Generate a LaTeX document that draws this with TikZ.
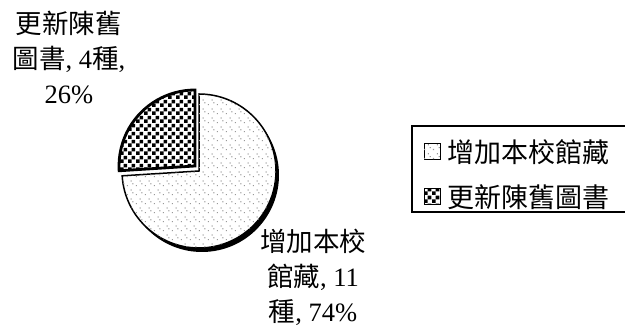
\documentclass[tikz,border=0pt]{standalone}
\usepackage{fontspec}
\setmainfont{Liberation Serif}
\newfontfamily\cjk{Noto Sans CJK TC}
\usetikzlibrary{patterns,patterns.meta}
\tikzdeclarepattern{name=darkchk, type=uncolored,
  bounding box={(0pt,0pt) and (8pt,8pt)}, tile size={(8pt,8pt)},
  code={\fill (0pt,0pt) rectangle (4pt,4pt); \fill (4pt,4pt) rectangle (8pt,8pt);}}
\tikzdeclarepattern{name=speck, type=uncolored,
  bounding box={(0pt,0pt) and (9pt,9pt)}, tile size={(9pt,9pt)},
  code={\fill (1pt,1pt) rectangle (2.2pt,2.2pt); \fill (5pt,6pt) rectangle (6.2pt,7.2pt); \fill (7pt,3pt) rectangle (8.2pt,4.2pt);}}
\tikzset{
  lightslice/.style={draw=black, line width=1.5pt, fill=white, postaction={pattern=speck, pattern color=gray!80}},
  darkslice/.style={draw=black, line width=2.8pt, fill=white, postaction={pattern=darkchk, pattern color=black}},
  lbl/.style={align=center, inner sep=0pt, font=\fontsize{26.5}{35}\selectfont},
  legtxt/.style={anchor=west, inner sep=0pt, font=\fontsize{27}{30}\selectfont\cjk},
}
\begin{document}
\begin{tikzpicture}[x=1pt,y=1pt]
\useasboundingbox (0,0) rectangle (625,331);
\coordinate (c) at (199,160);
\coordinate (cs) at (202,156);
\coordinate (d) at (195,165);
% shadow
\fill[black] (cs) -- ++(-176.4:77) arc[start angle=-176.4,end angle=90,radius=77] -- cycle;
% light slice 74%
\path[lightslice] (c) -- ++(-176.4:77) arc[start angle=-176.4,end angle=90,radius=77] -- cycle;
% dark slice 26%
\path[darkslice] (d) -- ++(90:76) arc[start angle=90,end angle=183.6,radius=76] -- cycle;
% labels
\node[lbl] (l1) at (69,274) {{\cjk 更新陳舊}\\{\cjk 圖書}, 4{\cjk 種},\\26\%};
\node[lbl] (l2) at (313,54) {{\cjk 增加本校}\\{\cjk 館藏}, 11\\{\cjk 種}, 74\%};
% legend
\draw[line width=1.2pt] (412,205) rectangle (632,119);
\path[draw=black, line width=1pt, fill=white, postaction={pattern=speck, pattern color=gray!80}] (424,171) rectangle (440,187);
\path[draw=black, line width=1pt, fill=white, postaction={pattern=darkchk, pattern color=black}] (424,126) rectangle (440,142);
\node[legtxt] (t1) at (447,179) {增加本校館藏};
\node[legtxt] (t2) at (447,134) {更新陳舊圖書};
\end{tikzpicture}
\end{document}
